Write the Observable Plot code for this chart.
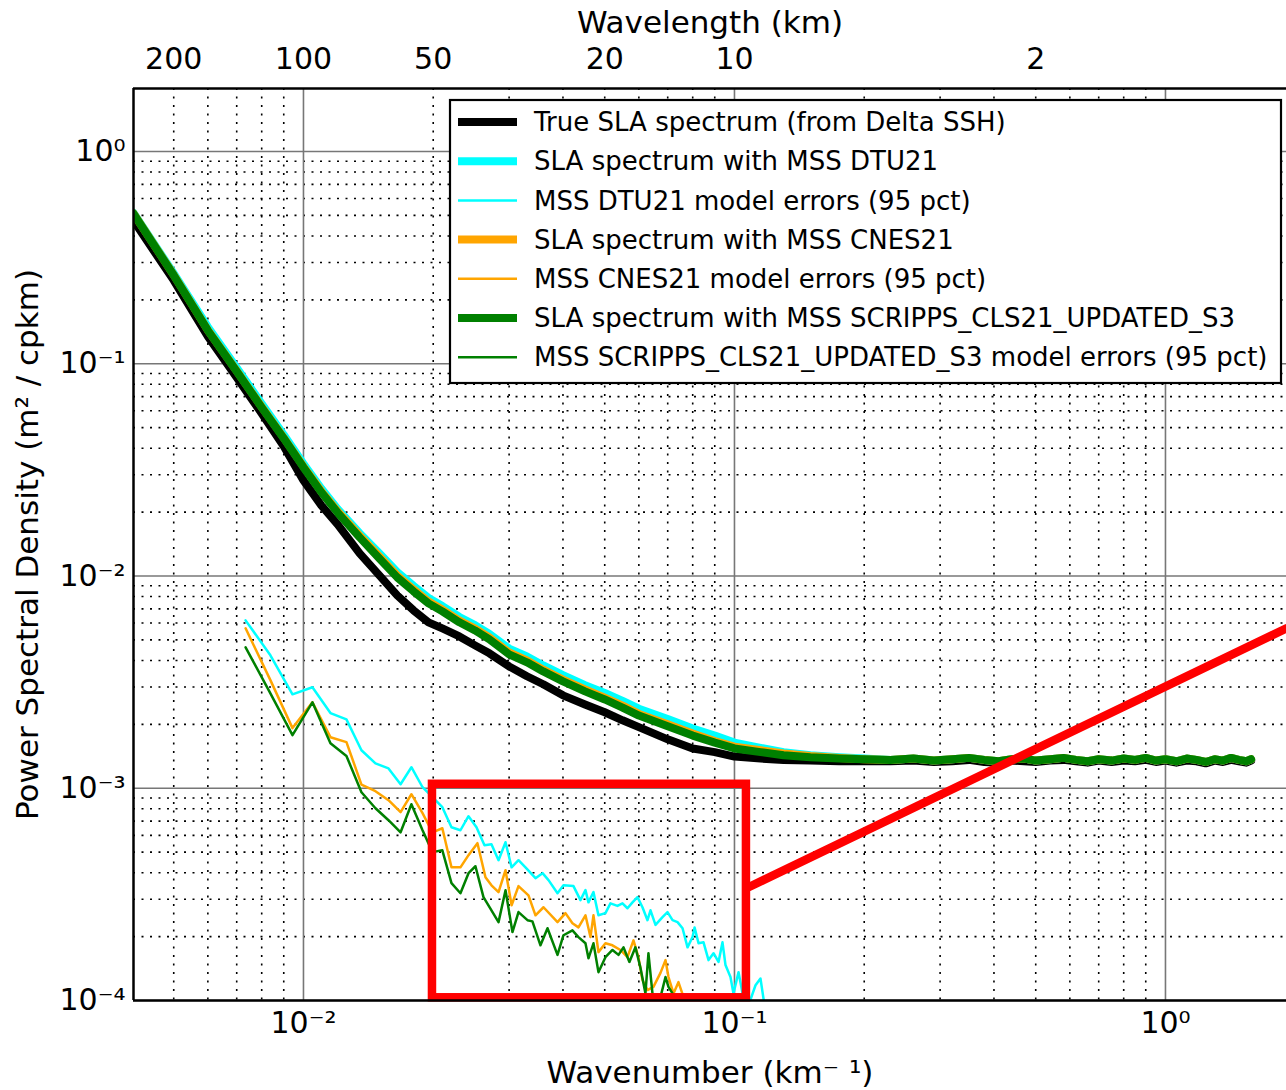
<!DOCTYPE html>
<html><head><meta charset="utf-8">
<script src="https://cdn.jsdelivr.net/npm/d3@7"></script>
<script src="https://cdn.jsdelivr.net/npm/@observablehq/plot@0.6"></script>
<style>
html,body{margin:0;padding:0;background:#fff;}
#chart svg{display:block;font-family:"DejaVu Sans",sans-serif;background:#fff;}
</style>
</head><body><div id="chart"></div>
<script>
// ---------- data ----------
const kThick = [0.00403,0.005,0.006,0.007,0.008,0.009,0.010,0.011,0.012,0.0135,0.015,0.0165,0.018,0.0195,0.021,0.023,0.025,0.027,
  0.030,0.033,0.036,0.040,0.045,0.050,0.055,0.060,0.070,0.080,0.090,0.100,0.115,0.130,0.150,0.175,0.200,
  0.23,0.26,0.29,0.32,0.35,0.38,0.41,0.44,0.47,0.50,0.54,0.58,0.62,0.66,0.70,0.75,0.80,0.85,0.90,0.95,1.00,
  1.06,1.12,1.18,1.24,1.30,1.36,1.42,1.48,1.54,1.58];
const psdTrue = [0.473,0.247,0.1345,0.0862,0.0583,0.0408,0.0282,0.0215,0.0175,0.01277,0.01007,0.00810,0.00689,0.00605,0.00566,0.00519,0.00471,0.00432,
  0.00375,0.00337,0.00309,0.00274,0.00248,0.00228,0.00209,0.00194,0.00170,0.00154,0.00148,0.00141,0.00138,0.00136,0.00135,0.00134,0.00134,
  0.00134,0.00135,0.00133,0.00134,0.00136,0.00133,0.00132,0.00135,0.00134,0.00133,0.00135,0.00136,0.00134,0.00132,0.00135,0.00133,0.00135,0.00134,0.00136,0.00133,0.00135,
  0.00132,0.00135,0.00134,0.00131,0.00135,0.00133,0.00136,0.00134,0.00132,0.00135];
const psdDTU21 = [0.515,0.266,0.149,0.0957,0.0647,0.0463,0.0338,0.0258,0.0207,0.0159,0.0128,0.01045,0.00898,0.00788,0.00722,0.00641,0.00587,0.00533,
  0.00455,0.00418,0.00379,0.00341,0.00306,0.00281,0.00258,0.00237,0.00212,0.00191,0.00177,0.00164,0.00155,0.00148,0.00143,0.00140,0.00138,
  0.00136,0.00138,0.00135,0.00137,0.00139,0.00136,0.00134,0.00137,0.00138,0.00135,0.00137,0.00139,0.00136,0.00134,0.00137,0.00135,0.00138,0.00136,0.00139,0.00135,0.00137,
  0.00134,0.00138,0.00136,0.00133,0.00137,0.00135,0.00139,0.00136,0.00134,0.00137];
const psdCNES21 = [0.512,0.262,0.144,0.0925,0.0626,0.0448,0.0328,0.0251,0.0202,0.0155,0.01235,0.01005,0.00864,0.00758,0.00695,0.00617,0.00565,0.00513,
  0.00436,0.00400,0.00362,0.00325,0.00292,0.00267,0.00245,0.00224,0.00200,0.00181,0.00167,0.00157,0.00151,0.00146,0.00142,0.00139,0.00137,
  0.00136,0.00138,0.00135,0.00137,0.00139,0.00136,0.00134,0.00137,0.00138,0.00135,0.00137,0.00139,0.00136,0.00134,0.00137,0.00135,0.00138,0.00136,0.00139,0.00135,0.00137,
  0.00134,0.00138,0.00136,0.00133,0.00137,0.00135,0.00139,0.00136,0.00134,0.00137];
const psdSCRIPPS = [0.510,0.261,0.1435,0.0920,0.0622,0.0445,0.0325,0.0248,0.0199,0.0152,0.0121,0.00985,0.00847,0.00743,0.00681,0.00605,0.00554,0.00503,
  0.00427,0.00392,0.00355,0.00319,0.00286,0.00262,0.00240,0.00220,0.00196,0.00177,0.00164,0.00154,0.00148,0.00143,0.00140,0.00138,0.00137,
  0.00136,0.00138,0.00135,0.00137,0.00139,0.00136,0.00134,0.00137,0.00138,0.00135,0.00137,0.00139,0.00136,0.00134,0.00137,0.00135,0.00138,0.00136,0.00139,0.00135,0.00137,
  0.00134,0.00138,0.00136,0.00133,0.00137,0.00135,0.00139,0.00136,0.00134,0.00137];

const kErrDTU21 = [0.00734,0.00838,0.00943,0.01049,0.01155,0.01258,0.01363,0.01469,0.01575,0.0168,0.0178,0.01889,0.01992,0.0210,0.02205,0.02313,0.02415,0.0252,0.0263,0.0273,
  0.02835,0.02943,0.0304,0.03154,0.03274,0.03454,0.03586,0.03703,0.03885,0.04011,0.04231,0.04392,0.04511,0.04584,0.04708,0.04835,0.05019,0.05155,0.05352,0.05497,
  0.05646,0.05799,0.05956,0.06117,0.06283,0.06385,0.06558,0.06808,0.06993,0.07182,0.07377,0.07577,0.07782,0.07993,0.08079,0.08253,0.08476,0.08706,0.08941,0.09183,
  0.0938,0.09531,0.09789,0.09947,0.1022,0.1044,0.1078,0.1119,0.1149,0.1174];
const errDTU21 = [6.18e-3,4.23e-3,2.77e-3,2.99e-3,2.26e-3,2.11e-3,1.51e-3,1.31e-3,1.24e-3,1.044e-3,1.256e-3,1.011e-3,9.07e-4,8.14e-4,6.55e-4,6.34e-4,7.38e-4,6.55e-4,5.39e-4,5.45e-4,
  4.58e-4,5.57e-4,4.24e-4,4.58e-4,4.24e-4,3.77e-4,3.98e-4,3.69e-4,3.20e-4,3.49e-4,3.46e-4,2.97e-4,3.31e-4,2.90e-4,3.24e-4,2.52e-4,2.58e-4,2.87e-4,2.79e-4,2.87e-4,
  2.72e-4,2.90e-4,3.07e-4,2.75e-4,2.39e-4,2.66e-4,2.27e-4,2.47e-4,2.61e-4,2.39e-4,2.34e-4,2.19e-4,1.78e-4,1.99e-4,2.21e-4,1.86e-4,1.88e-4,1.55e-4,1.67e-4,1.52e-4,
  1.88e-4,1.47e-4,1.29e-4,1.08e-4,1.36e-4,1.08e-4,9.5e-5,1.18e-4,1.27e-4,9.5e-5];

const kErrCNES21 = [0.00734,0.00838,0.00943,0.01049,0.01155,0.01258,0.01363,0.01469,0.01575,0.0168,0.0178,0.01889,0.01992,0.0210,0.02205,0.02313,0.02415,0.02533,0.02644,0.0273,
  0.02835,0.02943,0.0304,0.03154,0.03327,0.03454,0.03605,0.03885,0.04054,0.04208,0.04345,0.04511,0.04633,0.04708,0.04835,0.05019,0.05211,0.05438,0.05646,0.0583,
  0.05986,0.06117,0.06283,0.06486,0.06735,0.06918,0.07029,0.0722,0.07413,0.07614,0.0775];
const errCNES21 = [5.67e-3,3.23e-3,1.92e-3,2.54e-3,1.74e-3,1.65e-3,1.04e-3,9.68e-4,8.78e-4,7.71e-4,9.37e-4,7.63e-4,6.20e-4,6.48e-4,4.24e-4,4.24e-4,4.84e-4,5.51e-4,3.81e-4,3.49e-4,
  3.24e-4,4.11e-4,2.81e-4,3.46e-4,3.13e-4,2.52e-4,2.75e-4,2.34e-4,2.58e-4,2.31e-4,2.21e-4,2.52e-4,1.99e-4,2.52e-4,1.69e-4,1.86e-4,1.82e-4,1.73e-4,1.60e-4,1.92e-4,
  1.60e-4,1.25e-4,1.12e-4,1.16e-4,1.35e-4,1.55e-4,1.29e-4,1.08e-4,1.22e-4,1.04e-4,9.0e-5];

const kErrSCRIPPS = [0.00734,0.00838,0.00943,0.01049,0.01155,0.01258,0.01363,0.01469,0.01575,0.0168,0.0178,0.01889,0.01992,0.0210,0.02205,0.02313,0.02415,0.02506,0.02616,0.0273,
  0.02835,0.02943,0.03054,0.03154,0.03309,0.03398,0.03547,0.03683,0.03885,0.04011,0.04208,0.04345,0.04511,0.04584,0.04708,0.04835,0.05019,0.05211,0.05381,0.05526,
  0.05705,0.05891,0.0605,0.06148,0.06215,0.06315,0.06452,0.06662,0.06918,0.07029,0.07182,0.07413];
const errSCRIPPS = [4.61e-3,2.80e-3,1.78e-3,2.54e-3,1.63e-3,1.42e-3,9.58e-4,8.05e-4,7.07e-4,6.20e-4,8.41e-4,6.34e-4,5.00e-4,5.10e-4,3.57e-4,3.20e-4,3.98e-4,4.29e-4,3.07e-4,2.66e-4,
  2.34e-4,3.31e-4,2.10e-4,2.61e-4,2.39e-4,2.36e-4,1.82e-4,2.19e-4,1.64e-4,2.03e-4,2.14e-4,1.99e-4,1.86e-4,1.58e-4,1.86e-4,1.36e-4,1.60e-4,1.73e-4,1.64e-4,1.78e-4,
  1.52e-4,1.78e-4,1.43e-4,1.21e-4,1.08e-4,1.67e-4,1.08e-4,9.5e-5,1.29e-4,1.16e-4,1.08e-4,9.3e-5];

const seriesNames = [
  "True SLA spectrum (from Delta SSH)",
  "SLA spectrum with MSS DTU21",
  "MSS DTU21 model errors (95 pct)",
  "SLA spectrum with MSS CNES21",
  "MSS CNES21 model errors (95 pct)",
  "SLA spectrum with MSS SCRIPPS_CLS21_UPDATED_S3",
  "MSS SCRIPPS_CLS21_UPDATED_S3 model errors (95 pct)"
];
const seriesColors = ["#000000","#00ffff","#00ffff","#ffa500","#ffa500","#008000","#008000"];
const seriesThick = [true,true,false,true,false,true,false];

const xMajorTicks = [0.01, 0.1, 1];
const xMinorTicks = [0.005,0.006,0.007,0.008,0.009,0.02,0.03,0.04,0.05,0.06,0.07,0.08,0.09,0.2,0.3,0.4,0.5,0.6,0.7,0.8,0.9];
const yMajorTicks = [1e-4, 1e-3, 1e-2, 1e-1, 1];
const yMinorTicks = [2e-4,3e-4,4e-4,5e-4,6e-4,7e-4,8e-4,9e-4,2e-3,3e-3,4e-3,5e-3,6e-3,7e-3,8e-3,9e-3,
  0.02,0.03,0.04,0.05,0.06,0.07,0.08,0.09,0.2,0.3,0.4,0.5,0.6,0.7,0.8,0.9];
const wavelengthTicks = [200, 100, 50, 20, 10, 2];
const xDomain = [0.004033, 1.909];
const yDomain = [1e-4, 1.98];
const zoomBox = [{k1: 0.01992, k2: 0.1066, p1: 1.03e-4, p2: 1.044e-3}];
const zoomLink = [[0.1066, 3.38e-4], [1.909, 5.67e-3]];

// ---------- helpers ----------
const SUP = {"-":"\u207B","0":"\u2070","1":"\u00B9","2":"\u00B2","3":"\u00B3","4":"\u2074"};
const pow10 = d => "10" + String(Math.round(Math.log10(d))).split("").map(c => SUP[c]).join("");
const pairs = (ks, vs) => ks.map((k, i) => [k, vs[i]]);
const XY = {x: d => d[0], y: d => d[1], clip: true};

const lineMarks = [
  Plot.line(pairs(kThick, psdTrue), {...XY, stroke: seriesColors[0], strokeWidth: 8, strokeLinejoin: "round"}),
  Plot.line(pairs(kThick, psdDTU21), {...XY, stroke: seriesColors[1], strokeWidth: 8, strokeLinejoin: "round"}),
  Plot.line(pairs(kErrDTU21, errDTU21), {...XY, stroke: seriesColors[2], strokeWidth: 2.5}),
  Plot.line(pairs(kThick, psdCNES21), {...XY, stroke: seriesColors[3], strokeWidth: 8, strokeLinejoin: "round"}),
  Plot.line(pairs(kErrCNES21, errCNES21), {...XY, stroke: seriesColors[4], strokeWidth: 2.5}),
  Plot.line(pairs(kThick, psdSCRIPPS), {...XY, stroke: seriesColors[5], strokeWidth: 8, strokeLinejoin: "round"}),
  Plot.line(pairs(kErrSCRIPPS, errSCRIPPS), {...XY, stroke: seriesColors[6], strokeWidth: 2.5})
];

const plot = Plot.plot({
  width: 1286,
  height: 1090,
  marginLeft: 133,
  marginRight: 0,
  marginTop: 88,
  marginBottom: 90,
  style: {fontFamily: "DejaVu Sans, sans-serif", background: "#fff", color: "#000", overflow: "visible"},
  x: {type: "log", domain: xDomain},
  y: {type: "log", domain: yDomain},
  marks: [
    Plot.ruleX(xMinorTicks, {stroke: "#000", strokeWidth: 1.6, strokeDasharray: "2,6.5"}),
    Plot.ruleY(yMinorTicks, {stroke: "#000", strokeWidth: 1.6, strokeDasharray: "2,6.5"}),
    Plot.ruleX(xMajorTicks, {stroke: "#777", strokeWidth: 1.6}),
    Plot.ruleY(yMajorTicks, {stroke: "#777", strokeWidth: 1.6}),
    ...lineMarks,
    Plot.rect(zoomBox, {x1: "k1", x2: "k2", y1: "p1", y2: "p2", fill: "none", stroke: "#ff0000", strokeWidth: 8.5}),
    Plot.line(zoomLink, {...XY, stroke: "#ff0000", strokeWidth: 8.5}),
    Plot.ruleX([xDomain[0]], {stroke: "#000", strokeWidth: 2.5}),
    Plot.ruleY([yDomain[0], yDomain[1]], {stroke: "#000", strokeWidth: 2.5}),
    Plot.axisX({anchor: "bottom", ticks: xMajorTicks, tickFormat: pow10, tickSize: 0, tickPadding: 11, fontSize: 30, label: null}),
    Plot.axisY({anchor: "left", ticks: yMajorTicks, tickFormat: pow10, tickSize: 0, tickPadding: 8, fontSize: 30, label: null}),
    // top (wavelength) tick labels
    Plot.text(wavelengthTicks, {x: w => 1 / w, frameAnchor: "top", dy: -29, lineAnchor: "middle", textAnchor: "middle", text: w => String(w), fontSize: 30}),
    Plot.text(["Wavenumber (km\u207B \u00B9)"], {frameAnchor: "bottom", dy: 73, lineAnchor: "middle", textAnchor: "middle", fontSize: 31}),
    Plot.text(["Wavelength (km)"], {frameAnchor: "top", dy: -65, lineAnchor: "middle", textAnchor: "middle", fontSize: 31}),
    Plot.text(["Power Spectral Density (m\u00B2 / cpkm)"], {frameAnchor: "left", dx: -105, rotate: -90, lineAnchor: "middle", textAnchor: "middle", fontSize: 31})
  ]
});
document.getElementById("chart").appendChild(plot);

// ---------- legend (inside the frame, upper right) ----------
const svg = d3.select(plot);
const lg = svg.append("g").attr("font-family", "DejaVu Sans, sans-serif").attr("text-anchor", "start");
lg.append("rect").attr("x", 450).attr("y", 100).attr("width", 831).attr("height", 283)
  .attr("fill", "#fff").attr("stroke", "#000").attr("stroke-width", 2.2);
seriesNames.forEach((name, i) => {
  const cy = 122 + i * 39.2;
  lg.append("line").attr("x1", 458).attr("x2", 517).attr("y1", cy).attr("y2", cy)
    .attr("stroke", seriesColors[i]).attr("stroke-width", seriesThick[i] ? 8 : 2.5);
  lg.append("text").attr("x", 534).attr("y", cy).attr("dy", "0.35em").attr("text-anchor", "start")
    .attr("font-size", 26).attr("fill", "#000").text(name);
});
</script>
</body></html>
